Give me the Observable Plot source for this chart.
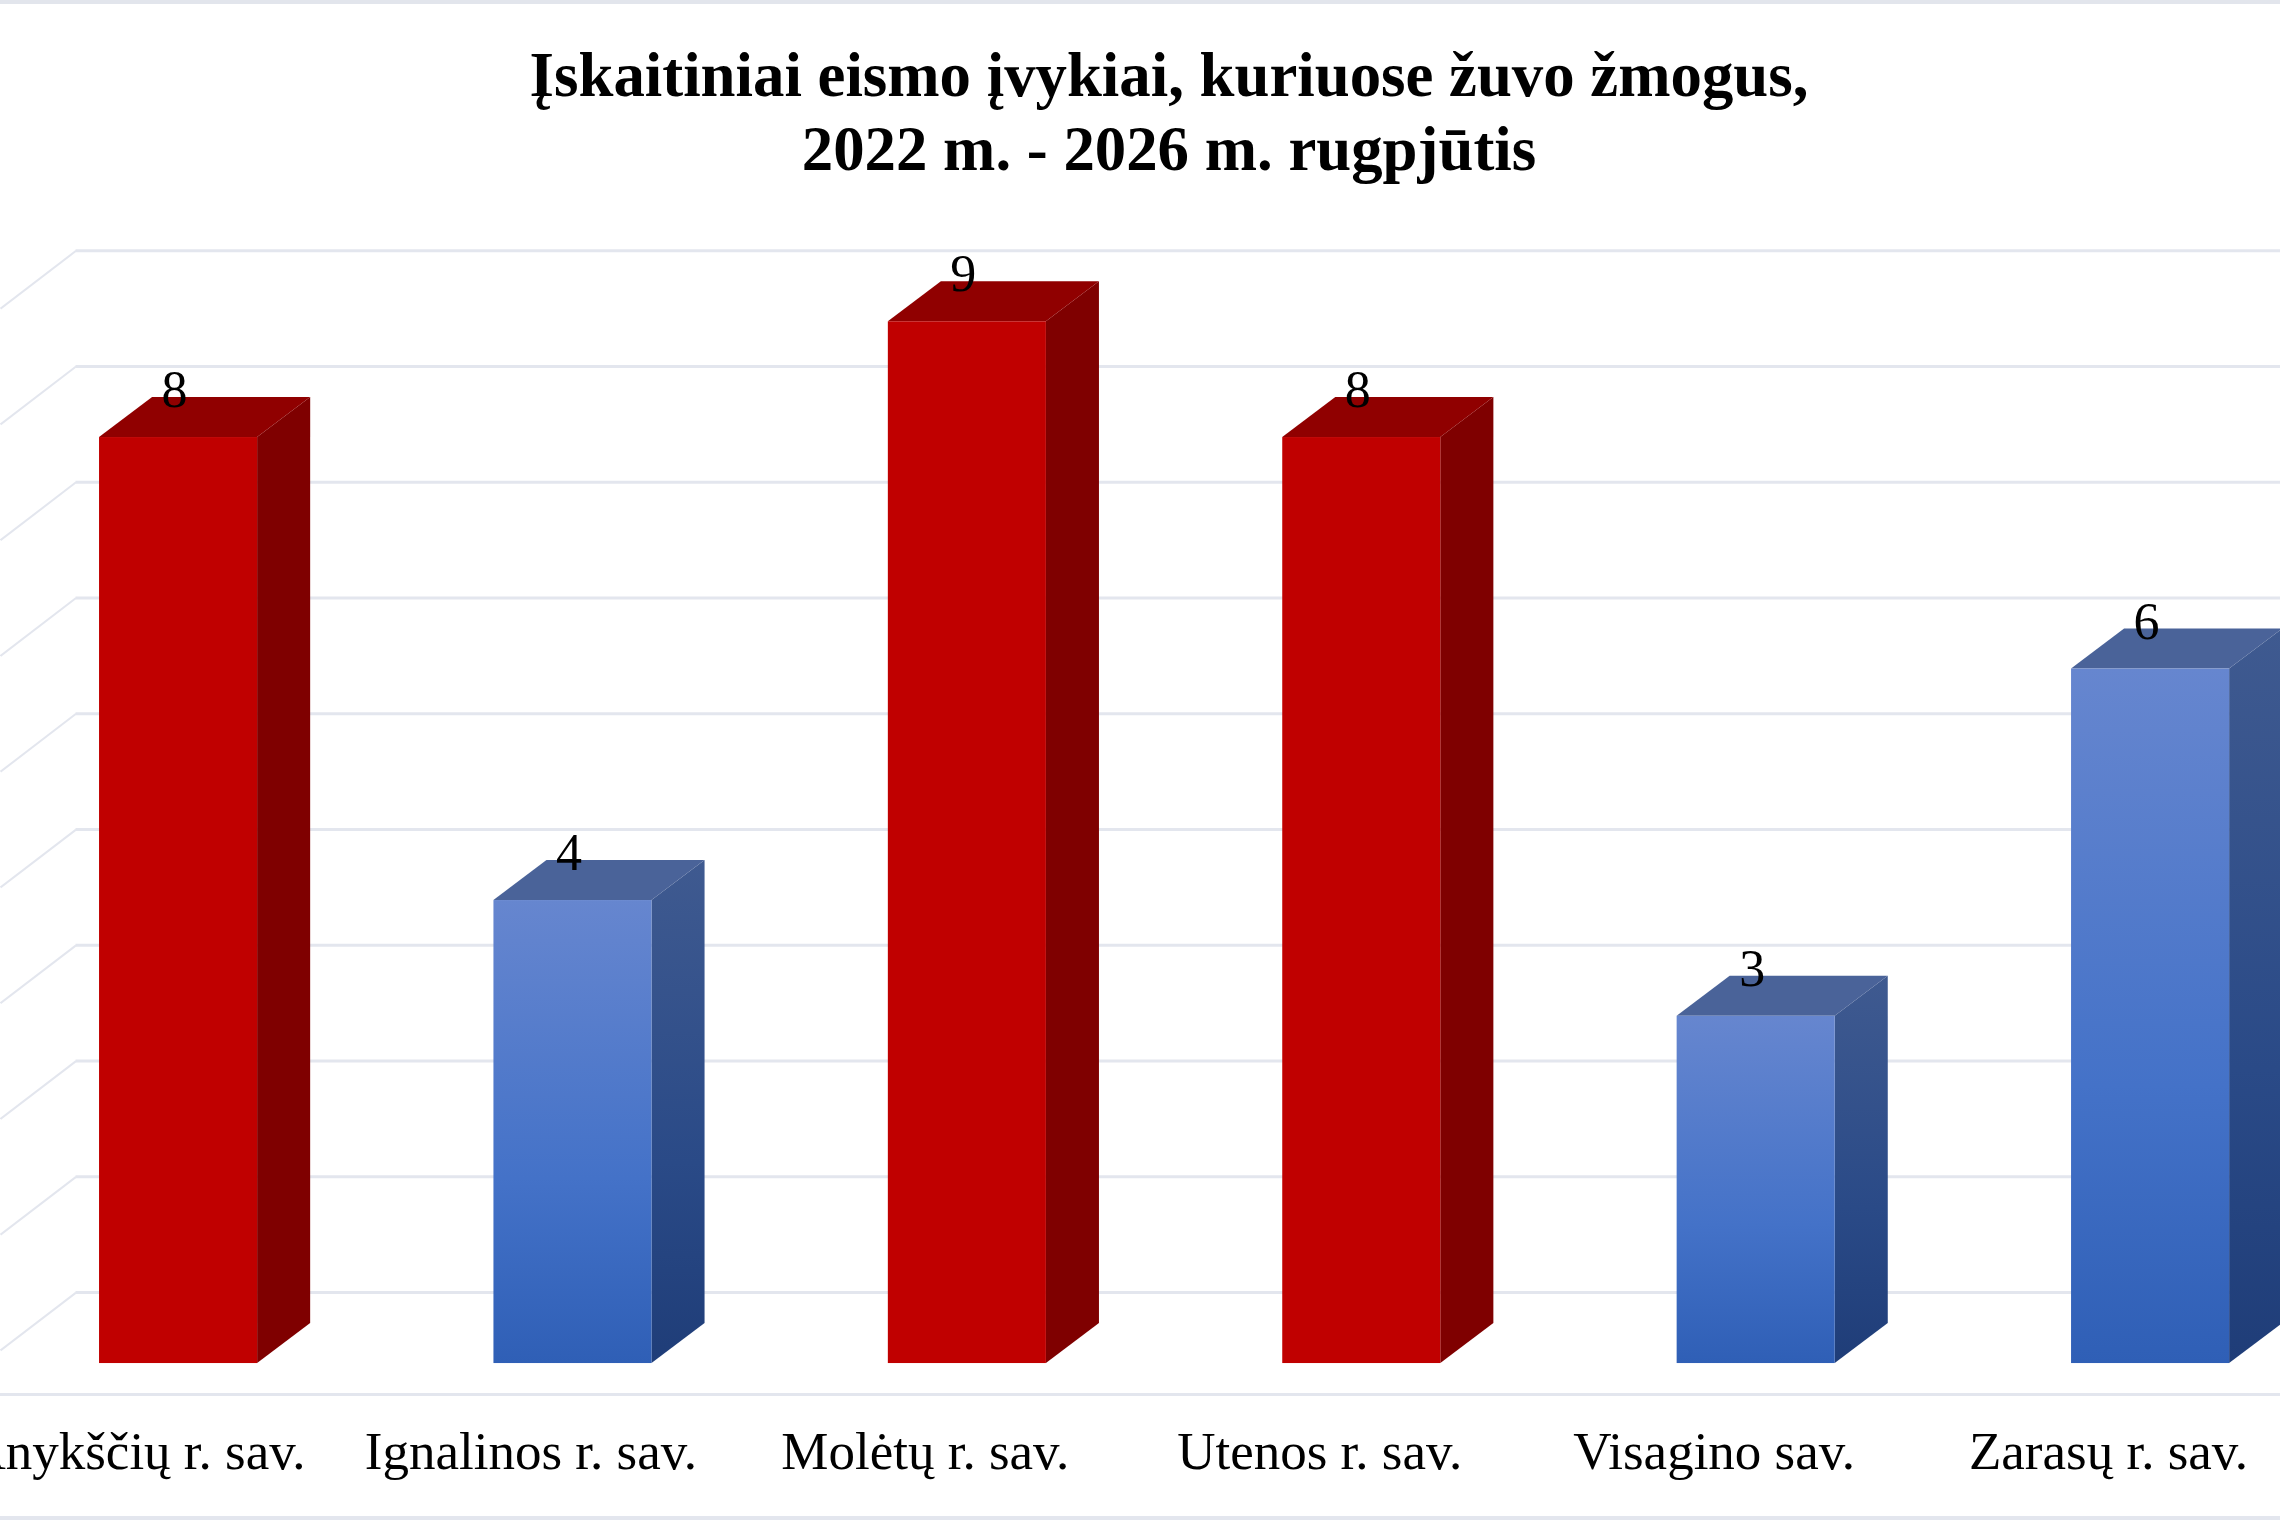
<!DOCTYPE html>
<html lang="lt">
<head>
<meta charset="utf-8">
<script src="https://cdn.jsdelivr.net/npm/d3@7"></script>
<script src="https://cdn.jsdelivr.net/npm/@observablehq/plot@0.6"></script>
<style>
html,body{margin:0;padding:0;background:#fff;width:2280px;height:1520px;overflow:hidden}
#title{box-sizing:border-box;width:2280px;height:220px;padding-top:34px;padding-left:58px;border-top:4px solid #e2e5ec;
  font-family:"Liberation Serif",serif;font-weight:bold;font-size:62.8px;line-height:74px;text-align:center;color:#000}
#chart svg{display:block}
</style>
</head>
<body>
<div id="title">Įskaitiniai eismo įvykiai, kuriuose žuvo žmogus,<br>2022 m. - 2026 m. rugpjūtis</div>
<div id="chart"></div>
<script>
const categories = ["Anykščių r. sav.", "Ignalinos r. sav.", "Molėtų r. sav.", "Utenos r. sav.", "Visagino sav.", "Zarasų r. sav."];
const values = [8, 4, 9, 8, 3, 6];
const highlighted = [true, false, true, true, false, false];
const gridLevels = [0, 1, 2, 3, 4, 5, 6, 7, 8, 9];

const leftEdge = 0.2028, rightEdge = 0.198, depthX = 0.1345, depthY = 0.3456;
const backShift = 0.613, wallX = -0.2624, xMin = -0.4539, xMax = 5.327;
const gridColor = "#e3e6ee";

const bars = values.map((v, i) => ({i, v, hot: highlighted[i], name: categories[i]}));
const side = bars.flatMap(b => [
  {i: b.i, hot: b.hot, x: b.i + rightEdge, low: 0, high: b.v},
  {i: b.i, hot: b.hot, x: b.i + rightEdge + depthX, low: depthY, high: b.v + depthY}
]);
const top_ = bars.flatMap(b => [
  {i: b.i, hot: b.hot, left: b.i - leftEdge, right: b.i + rightEdge, y: b.v},
  {i: b.i, hot: b.hot, left: b.i - leftEdge + depthX, right: b.i + rightEdge + depthX, y: b.v + depthY}
]);

const defs = () => {
  const g = d3.create("svg:g");
  g.html(`<defs>
    <linearGradient id="blueFront" x1="0" y1="0" x2="0" y2="1">
      <stop offset="0" stop-color="#6686cf"/><stop offset="0.6" stop-color="#4472c8"/><stop offset="1" stop-color="#2f5fb6"/>
    </linearGradient>
    <linearGradient id="blueSide" x1="0" y1="0" x2="0" y2="1">
      <stop offset="0" stop-color="#3f5a90"/><stop offset="0.6" stop-color="#2a4a87"/><stop offset="1" stop-color="#1f3d78"/>
    </linearGradient>
  </defs>`);
  return g.node();
};

const plot = Plot.plot({
  width: 2280, height: 1300,
  marginTop: 0, marginRight: 0, marginBottom: 0, marginLeft: 0,
  style: {fontFamily: "Liberation Serif, serif", background: "#fff", color: "#000"},
  x: {domain: [xMin, xMax], range: [0, 2280], axis: null},
  y: {domain: [-1.356, 9.875], range: [1300, 0], axis: null},
  color: {type: "identity"},
  marks: [
    defs,
    Plot.ruleY(gridLevels, {y: d => d + backShift, x1: wallX, x2: xMax, stroke: gridColor, strokeWidth: 3}),
    Plot.link(gridLevels, {x1: wallX, y1: d => d + backShift, x2: xMin, y2: d => d + backShift - 0.5, stroke: gridColor, strokeWidth: 2}),
    Plot.ruleY([-0.268], {stroke: gridColor, strokeWidth: 3}),
    Plot.ruleY([-1.335], {stroke: gridColor, strokeWidth: 4}),
    Plot.area(side, {x1: "x", y1: "low", y2: "high", z: "i", fill: d => d.hot ? "#7f0000" : "url(#blueSide)"}),
    Plot.area(top_, {x1: "left", x2: "right", y1: "y", z: "i", fill: d => d.hot ? "#900000" : "#4a6399"}),
    Plot.rect(bars, {x1: d => d.i - leftEdge, x2: d => d.i + rightEdge, y1: 0, y2: "v", fill: d => d.hot ? "#c00000" : "url(#blueFront)"}),
    Plot.text(bars, {x: "i", y: "v", text: d => String(d.v), dx: -5, dy: -47, fontSize: 52, fill: "#000"}),
    Plot.axisX(d3.range(categories.length), {
      anchor: "bottom", tickSize: 0, tickPadding: 0, label: null,
      tickFormat: i => categories[i], dx: -43, dy: -89, fontSize: 53, fill: "#000"
    })
  ]
});
document.getElementById("chart").appendChild(plot);
</script>
</body>
</html>
